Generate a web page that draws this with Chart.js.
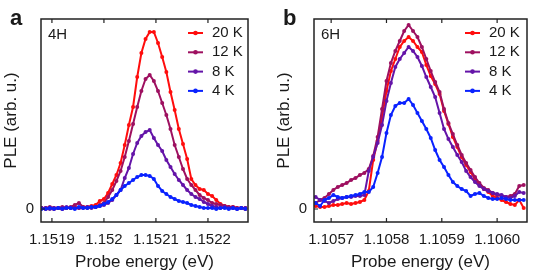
<!DOCTYPE html>
<html>
<head>
<meta charset="utf-8">
<script src="https://cdn.jsdelivr.net/npm/chart.js@4.4.1/dist/chart.umd.min.js"></script>
<style>
  html, body { margin: 0; padding: 0; background: #fff; }
  #wrap { position: relative; width: 546px; height: 273px; }
  canvas { position: absolute; top: 0; }
</style>
</head>
<body>
<div id="wrap">
  <canvas id="chartA" width="273" height="273" style="left:0"></canvas>
  <canvas id="chartB" width="273" height="273" style="left:273px"></canvas>
</div>
<script>
// temperature series, same for both panels
const seriesLabels = ['20 K', '12 K', '8 K', '4 K'];
const seriesColors = ['#ff0d0d', '#9e1060', '#6414a8', '#0a22ff'];

// panel a, 4H
const energyA = [
  1.151880, 1.151888, 1.151896, 1.151904, 1.151912, 1.151920, 1.151928, 1.151936, 1.151944, 1.151952,
  1.151960, 1.151968, 1.151976, 1.151984, 1.151992, 1.152000, 1.152008, 1.152016, 1.152024, 1.152032,
  1.152040, 1.152048, 1.152056, 1.152064, 1.152072, 1.152080, 1.152088, 1.152096, 1.152104, 1.152112,
  1.152120, 1.152128, 1.152136, 1.152144, 1.152152, 1.152160, 1.152168, 1.152176, 1.152184, 1.152192,
  1.152200, 1.152208, 1.152216, 1.152224, 1.152232, 1.152240, 1.152248, 1.152256, 1.152264, 1.152272
];
const ple20A = [1, 0, 1, 0, 1, 0, 1, 1, 2, 1, 2, 2, 3, 4, 8, 10, 16, 25, 34, 46,
  64, 84, 102, 132, 156, 170, 177, 177, 166, 152, 137, 117, 99, 80, 65, 50, 30, 24, 20, 19,
  15, 13, 9, 5, 3, 2, 2, 1, 1, 0];
const ple12A = [1, 1, 2, 1, 1, 2, 1, 2, 4, 6, 2, 1, 2, 2, 4, 6, 12, 19, 28, 38,
  52, 68, 85, 102, 118, 130, 134, 128, 118, 106, 94, 80, 64, 52, 40, 30, 24, 19, 14, 11,
  9, 6, 5, 4, 3, 2, 2, 1, 1, 1];
const ple8A = [1, 1, 0, 1, 1, 1, 2, 1, 1, 1, 1, 2, 1, 2, 3, 4, 6, 9, 14, 19,
  31, 41, 55, 66, 73, 77, 79, 71, 64, 58, 49, 42, 35, 29, 24, 19, 15, 12, 10, 7,
  5, 3, 2, 1, 2, 1, 1, 0, 1, 1];
const ple4A = [0, 0, 1, 0, 1, 0, 1, 1, 0, 2, 1, 1, 2, 2, 3, 5, 7, 10, 14, 19,
  23, 26, 29, 32, 34, 34, 33, 30, 23, 18, 15, 12, 10, 8, 7, 6, 4, 3, 2, 1,
  1, 1, 0, 1, 1, 0, 1, 0, 1, 0];
const tickValsA = [1.1519, 1.152, 1.1521, 1.1522];
const tickLabelsA = ['1.1519', '1.152', '1.1521', '1.1522'];

// panel b, 6H
const energyB = [
  1.105672, 1.105680, 1.105688, 1.105696, 1.105704, 1.105712, 1.105720, 1.105728, 1.105736, 1.105744,
  1.105752, 1.105760, 1.105768, 1.105776, 1.105784, 1.105792, 1.105800, 1.105808, 1.105816, 1.105824,
  1.105832, 1.105840, 1.105848, 1.105856, 1.105864, 1.105872, 1.105880, 1.105888, 1.105896, 1.105904,
  1.105912, 1.105920, 1.105928, 1.105936, 1.105944, 1.105952, 1.105960, 1.105968, 1.105976, 1.105984,
  1.105992, 1.106000, 1.106008, 1.106016, 1.106024, 1.106032, 1.106040, 1.106048
];
const ple20B = [3, 2, 2, 3, 4, 4, 5, 6, 5, 6, 7, 9, 18, 49, 68, 92, 118, 138, 150, 162,
  168, 172, 168, 162, 157, 144, 133, 125, 115, 98, 85, 72, 62, 52, 44, 37, 30, 24, 20, 17,
  13, 11, 9, 7, 5, 4, 9, 1];
const ple12B = [6, 9, 11, 15, 19, 22, 24, 26, 29, 31, 34, 36, 40, 53, 72, 100, 128, 146, 158, 168,
  178, 184, 178, 172, 162, 150, 138, 127, 117, 100, 86, 75, 64, 54, 46, 39, 32, 26, 21, 19,
  16, 14, 13, 12, 13, 15, 23, 24];
const ple8B = [12, 9, 8, 6, 8, 10, 11, 12, 12, 13, 13, 14, 38, 52, 66, 84, 108, 126, 142, 150,
  156, 162, 158, 152, 143, 132, 122, 112, 96, 80, 70, 62, 54, 47, 38, 32, 27, 23, 20, 18,
  16, 15, 14, 12, 11, 13, 17, 16];
const ple4B = [6, 3, 9, 11, 14, 12, 11, 12, 13, 14, 15, 17, 17, 22, 36, 52, 76, 94, 103, 106,
  106, 110, 104, 96, 88, 80, 71, 59, 49, 42, 34, 27, 23, 20, 18, 13, 15, 16, 13, 11,
  10, 10, 11, 10, 9, 9, 9, 9];
const tickValsB = [1.1057, 1.1058, 1.1059, 1.1060];
const tickLabelsB = ['1.1057', '1.1058', '1.1059', '1.1060'];

const FONT = '"Liberation Sans", Arial, Helvetica, sans-serif';
const INK = '#1a1a1a';

// frame, inward ticks, sample name, panel letter and legend
const framePlugin = {
  id: 'frame',
  afterDatasetsDraw(chart, args, opts) {
    const { ctx, chartArea: a } = chart;
    const x = chart.scales.x, y = chart.scales.y;
    ctx.save();
    ctx.strokeStyle = '#222';
    ctx.lineWidth = 1.5;
    ctx.strokeRect(a.left, a.top, a.right - a.left, a.bottom - a.top);
    ctx.lineWidth = 1.2;
    ctx.beginPath();
    x.ticks.forEach(t => {
      const px = x.getPixelForValue(t.value);
      ctx.moveTo(px, a.bottom); ctx.lineTo(px, a.bottom - 4);
      ctx.moveTo(px, a.top); ctx.lineTo(px, a.top + 4);
    });
    y.ticks.forEach(t => {
      const py = y.getPixelForValue(t.value);
      ctx.moveTo(a.left, py); ctx.lineTo(a.left + 4, py);
    });
    ctx.stroke();

    ctx.fillStyle = INK;
    ctx.textBaseline = 'middle';
    ctx.font = '15px ' + FONT;
    ctx.fillText(opts.sample, a.left + 7, 35);

    ctx.font = 'bold 22px ' + FONT;
    ctx.textBaseline = 'alphabetic';
    ctx.fillText(opts.letter, 10, 25);

    ctx.textBaseline = 'middle';
    ctx.font = '15px ' + FONT;
    chart.data.datasets.forEach((ds, i) => {
      const yy = 33 + 19.3 * i;
      ctx.strokeStyle = ds.borderColor;
      ctx.lineWidth = 2;
      ctx.beginPath();
      ctx.moveTo(opts.legendX, yy); ctx.lineTo(opts.legendX + 15, yy);
      ctx.stroke();
      ctx.fillStyle = ds.borderColor;
      ctx.beginPath();
      ctx.arc(opts.legendX + 7.5, yy, 2.3, 0, Math.PI * 2);
      ctx.fill();
      ctx.fillStyle = INK;
      ctx.fillText(ds.label, opts.legendX + 24, yy);
    });
    ctx.restore();
  }
};

function makeChart(id, energy, series, xMin, xMax, tickVals, tickLabels, padRight, extra) {
  const datasets = series.map((vals, i) => ({
    label: seriesLabels[i],
    data: energy.map((e, k) => ({ x: e, y: vals[k] })),
    borderColor: seriesColors[i],
    backgroundColor: seriesColors[i],
    borderWidth: 2,
    pointRadius: 2,
    pointHoverRadius: 2,
    pointBorderWidth: 0,
    tension: 0,
    order: series.length - i
  }));
  return new Chart(document.getElementById(id), {
    type: 'line',
    data: { datasets },
    options: {
      responsive: false,
      animation: false,
      devicePixelRatio: 1,
      layout: { padding: { top: 19, right: padRight, left: 0, bottom: 0 } },
      plugins: { legend: { display: false }, tooltip: { enabled: false }, frame: extra },
      scales: {
        x: {
          type: 'linear',
          min: xMin,
          max: xMax,
          grid: { display: false, drawTicks: false },
          border: { display: false },
          afterBuildTicks: s => { s.ticks = tickVals.map(v => ({ value: v })); },
          afterFit: s => { s.height = 51; },
          ticks: {
            padding: 9,
            color: INK,
            font: { family: FONT, size: 15 },
            maxRotation: 0,
            callback: (v, idx) => tickLabels[idx]
          },
          title: {
            display: true,
            text: 'Probe energy (eV)',
            color: INK,
            font: { family: FONT, size: 17 },
            padding: { top: 0, bottom: 0 }
          }
        },
        y: {
          min: -13,
          max: 190,
          grid: { display: false, drawTicks: false },
          border: { display: false },
          afterBuildTicks: s => { s.ticks = [{ value: 0 }]; },
          afterFit: s => { s.width = 41; },
          ticks: {
            padding: 7,
            color: INK,
            font: { family: FONT, size: 15 },
            callback: () => '0'
          },
          title: {
            display: true,
            text: 'PLE (arb. u.)',
            color: INK,
            font: { family: FONT, size: 17 },
            padding: { top: 1, bottom: 0 }
          }
        }
      }
    },
    plugins: [framePlugin]
  });
}

makeChart('chartA', energyA, [ple20A, ple12A, ple8A, ple4A], 1.151879, 1.152277,
  tickValsA, tickLabelsA, 25, { sample: '4H', letter: 'a', legendX: 188 });
makeChart('chartB', energyB, [ple20B, ple12B, ple8B, ple4B], 1.105669, 1.106054,
  tickValsB, tickLabelsB, 19, { sample: '6H', letter: 'b', legendX: 192 });
</script>
</body>
</html>
